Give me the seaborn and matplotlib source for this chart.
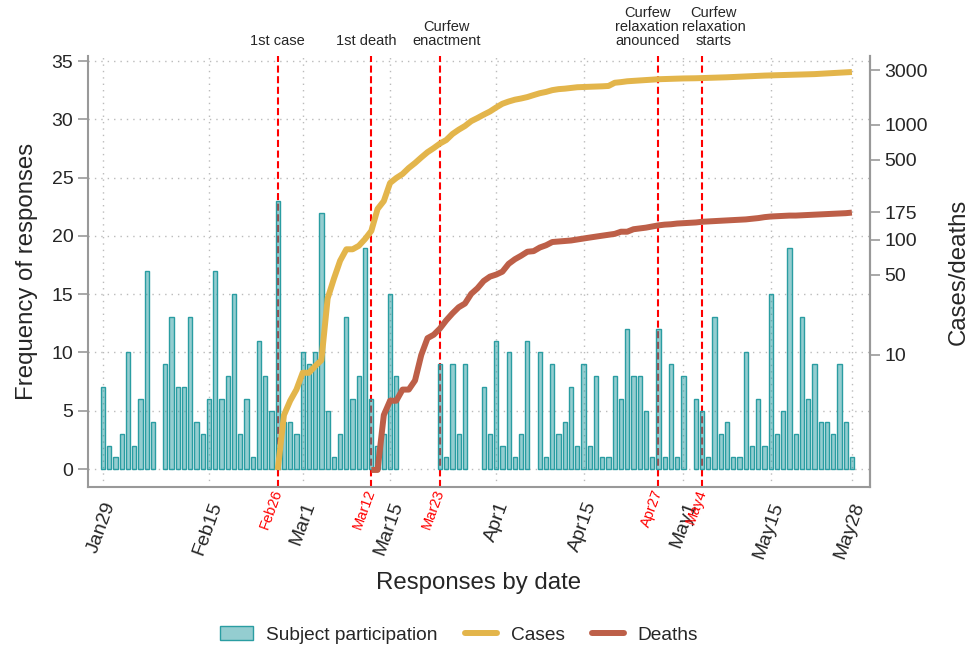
import numpy as np
import pandas as pd
import matplotlib
matplotlib.use("Agg")
import matplotlib.pyplot as plt
from matplotlib.patches import Patch
from matplotlib.lines import Line2D
from matplotlib.ticker import FixedLocator, FixedFormatter, NullLocator
import seaborn as sns

# daily responses, Jan29 .. May28 (0 = no responses that day)
responses = [7, 2, 1,
             3, 10, 2, 6, 17, 4, 0, 9, 13, 7, 7, 13, 4, 3, 6, 17, 6, 8, 15, 3, 6, 1, 11, 8, 5, 23, 4, 4, 3,
             10, 9, 10, 22, 5, 1, 3, 13, 6, 8, 19, 6, 2, 3, 15, 8, 0, 0, 0, 0, 0, 0, 9, 1, 9, 3, 9, 0, 0, 7, 3,
             11, 2, 10, 1, 3, 11, 0, 10, 1, 9, 3, 4, 7, 2, 9, 2, 8, 1, 1, 8, 6, 12, 8, 8, 5, 1, 12, 1, 9, 1,
             8, 0, 6, 5, 1, 13, 3, 4, 1, 1, 10, 2, 6, 2, 15, 3, 5, 19, 3, 13, 6, 9, 4, 4, 3, 9, 4, 1]

# cumulative cases from Feb26, deaths from Mar12
cases = [1, 3, 4, 5,
         7, 7, 8, 9, 31, 46, 66, 83, 83, 89, 102, 120, 186, 218, 313, 346, 375, 423, 467, 522, 580, 630,
         690, 740, 835, 910, 980, 1080, 1150, 1230, 1310,
         1420, 1530, 1600, 1660, 1700, 1750, 1820, 1890, 1940, 2010, 2050, 2070, 2100, 2130, 2140, 2150,
         2160, 2170, 2185, 2330, 2360, 2400, 2420, 2440, 2460, 2480, 2500, 2510, 2520, 2530,
         2540, 2545, 2550, 2560, 2570, 2580, 2590, 2600, 2615, 2630, 2645, 2660, 2675, 2690, 2700, 2710,
         2720, 2730, 2740, 2750, 2760, 2770, 2790, 2810, 2830, 2850, 2870, 2890]
deaths = [1, 1, 3, 4, 4, 5, 5, 6, 10, 14, 15, 17, 20, 23, 26, 28, 34, 38, 44, 48,
          50, 53, 62, 68, 73, 79, 80, 86, 90, 96, 97, 98, 99, 101, 103, 105, 107, 109, 111, 113,
          118, 118, 124, 126, 128, 131, 134, 136, 137, 139,
          140, 141, 142, 144, 145, 146, 147, 148, 149, 150, 151, 153, 155, 158, 160, 161, 162, 163, 163,
          164, 165, 166, 167, 168, 169, 170, 171, 173]

start = pd.Timestamp("2020-01-29")
tick_dates = ["2020-01-29", "2020-02-15", "2020-03-01", "2020-03-15", "2020-04-01",
              "2020-04-15", "2020-05-01", "2020-05-15", "2020-05-28"]
tick_labels = ["Jan29", "Feb15", "Mar1", "Mar15", "Apr1", "Apr15", "May1", "May15", "May28"]
event_dates = ["2020-02-26", "2020-03-12", "2020-03-23", "2020-04-27", "2020-05-04"]
event_labels = ["Feb26", "Mar12", "Mar23", "Apr27", "May4"]
event_notes = ["1st case", "1st death", "Curfew\nenactment",
               "Curfew\nrelaxation\nanounced", "Curfew\nrelaxation\nstarts"]
note_shift = [0, -4, 5, -8, 8.5]  # points, to keep the notes apart
right_ticks = [10, 50, 100, 175, 500, 1000, 3000]


def day_of(d):
    return (pd.Timestamp(d) - start).days


bars = pd.DataFrame({"day": np.arange(len(responses)), "n": responses})
bars = bars[bars["n"] > 0]
case_day = np.arange(len(cases)) + day_of("2020-02-26")
death_day = np.arange(len(deaths)) + day_of("2020-03-12")

teal = "#2a9da2"
fill = (0.165, 0.616, 0.635, 0.5)
gold = "#e3b54b"
rust = "#bd5f48"
grey = "#999999"

sns.set_style("white")
plt.rcParams["font.family"] = ["Liberation Sans", "DejaVu Sans"]

fig = plt.figure(figsize=(9.71, 6.52), dpi=100)
ax = fig.add_axes([0.0906, 0.2531, 0.8054, 0.661])

sns.barplot(data=bars, x="day", y="n", native_scale=True, width=0.68, color=teal,
            saturation=1, errorbar=None, ax=ax, zorder=3)
for p in ax.patches:
    p.set_facecolor(fill)
    p.set_edgecolor(teal)
    p.set_linewidth(1)

# grid
for v in range(0, 36, 5):
    ax.axhline(v, color="#bbbbbb", lw=1, dashes=(1, 3.6), zorder=0)
for d in tick_dates:
    ax.axvline(day_of(d), color="#bbbbbb", lw=1, dashes=(1, 3.6), zorder=0)
for d, note, dx in zip(event_dates, event_notes, note_shift):
    ax.axvline(day_of(d), color="red", lw=1.5, dashes=(3.4, 1.7), zorder=2)
    ax.annotate(note, xy=(day_of(d), 1), xycoords=("data", "axes fraction"),
                xytext=(dx, 6), textcoords="offset points", ha="center", va="bottom",
                fontsize=10.5, linespacing=1.0)

ax.set_xlim(-2.4, 122.9)
ax.set_ylim(-1.54, 35.43)

all_days = [day_of(d) for d in tick_dates] + [day_of(d) for d in event_dates]
all_labels = tick_labels + event_labels
ax.xaxis.set_major_locator(FixedLocator(all_days))
ax.xaxis.set_major_formatter(FixedFormatter(all_labels))
ax.set_yticks(range(0, 36, 5))
ax.tick_params(axis="both", direction="out", length=7, width=1.2, color=grey, labelsize=14)
ax.tick_params(axis="x", pad=2)
for t, lab in zip(ax.xaxis.get_major_ticks(), all_labels):
    t.label1.set_rotation(70)
    t.label1.set_ha("right")
    t.label1.set_rotation_mode("anchor")
    t.label1.set_va("top")
    if lab in event_labels:
        t.label1.set_color("red")
        t.label1.set_fontsize(10.5)
        t.label1.set_va("center")
        t.tick1line.set_color("red")
        t.set_pad(-5)

ax.set_xlabel("Responses by date", fontsize=17.3, labelpad=8)
ax.set_ylabel("Frequency of responses", fontsize=17.3, labelpad=10)
for s in ["left", "bottom", "right"]:
    ax.spines[s].set_color(grey)
    ax.spines[s].set_linewidth(1.5)
ax.spines["top"].set_visible(False)

ax2 = ax.twinx()
sns.lineplot(x=case_day, y=cases, ax=ax2, color=gold, lw=4.3, solid_capstyle="butt")
sns.lineplot(x=death_day, y=deaths, ax=ax2, color=rust, lw=4.3, solid_capstyle="butt")
ax2.set_yscale("log")
ax2.set_ylim(0.711, 3981)
ax2.yaxis.set_major_locator(FixedLocator(right_ticks))
ax2.yaxis.set_major_formatter(FixedFormatter([str(v) for v in right_ticks]))
ax2.yaxis.set_minor_locator(NullLocator())
ax2.tick_params(axis="y", direction="out", length=7, width=1.2, color=grey, labelsize=14)
ax2.set_ylabel("Cases/deaths", fontsize=17.3, labelpad=14)
for s in ["left", "bottom", "top"]:
    ax2.spines[s].set_visible(False)
ax2.spines["right"].set_color(grey)
ax2.spines["right"].set_linewidth(1.5)

handles = [Patch(facecolor=fill, edgecolor=teal, lw=1),
           Line2D([], [], color=gold, lw=4.3),
           Line2D([], [], color=rust, lw=4.3)]
fig.legend(handles, ["Subject participation", "Cases", "Deaths"], loc="center",
           bbox_to_anchor=(0.473, 0.026), ncol=3, frameon=False, fontsize=13.8,
           columnspacing=1.4, handlelength=1.7, handletextpad=0.7)

fig.savefig("out.png", dpi=100)
